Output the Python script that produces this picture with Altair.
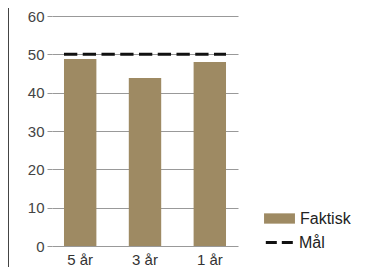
import altair as alt
import pandas as pd

categories = ["5 år", "3 år", "1 år"]
actual = [48.8, 43.8, 48.0]
target = 50
y_ticks = [0, 10, 20, 30, 40, 50, 60]

bars_df = pd.DataFrame({"cat": categories, "value": actual, "serie": ["Faktisk"] * 3})
goal_df = pd.DataFrame({"start": [categories[0]], "end": [categories[-1]], "goal": [target], "serie": ["Mål"]})

FONT = "Liberation Sans"
x_scale = alt.Scale(domain=categories, paddingInner=0.5, paddingOuter=0.185)
y_scale = alt.Scale(domain=[0, 60], nice=False)

x_axis = alt.Axis(labelAngle=0, ticks=False, domain=False, labelFontSize=15,
                  labelColor="#333", labelPadding=6, labelFont=FONT, title=None)
y_axis = alt.Axis(values=y_ticks, domain=False, tickSize=5, tickColor="#999",
                  gridColor="#999", labelFontSize=15, labelColor="#444",
                  labelPadding=3, labelFont=FONT, title=None)

bars = alt.Chart(bars_df).mark_bar().encode(
    x=alt.X("cat:N", scale=x_scale, axis=x_axis),
    y=alt.Y("value:Q", scale=y_scale, axis=y_axis),
    color=alt.Color("serie:N", scale=alt.Scale(domain=["Faktisk"], range=["#9e8a63"]),
                    legend=alt.Legend(title=None, orient="none", legendX=217, legendY=192,
                                      symbolType="M-1.5,-0.5H1.5V0.5H-1.5Z", symbolSize=425,
                                      symbolOpacity=1, labelFontSize=16, labelColor="#222",
                                      labelFont=FONT, symbolStrokeWidth=0, labelOffset=10)),
)

goal = alt.Chart(goal_df).mark_rule(strokeWidth=3, strokeDash=[13.3, 5.45]).encode(
    x=alt.X("start:N", scale=x_scale, bandPosition=0, axis=x_axis),
    x2=alt.X2("end:N", bandPosition=1),
    y=alt.Y("goal:Q", scale=y_scale, axis=y_axis),
    stroke=alt.Stroke("serie:N", scale=alt.Scale(domain=["Mål"], range=["#111"]),
                      legend=alt.Legend(title=None, orient="none", legendX=212, legendY=211,
                                        symbolType="stroke", symbolDash=[11, 5],
                                        symbolStrokeWidth=3, symbolSize=750,
                                        labelFontSize=16, labelColor="#222",
                                        labelFont=FONT, labelOffset=4)),
)

border = alt.Chart(bars_df).mark_rule(color="#444", strokeWidth=1, clip=False).encode(
    x=alt.value(-43.5), y=alt.value(-8), y2=alt.value(251)
)

chart = alt.layer(border, bars, goal).properties(
    width=186, height=230,
    autosize=alt.AutoSizeParams(type="none"),
    padding={"left": 44, "top": 8, "right": 137, "bottom": 21},
).configure_view(stroke=None).configure_legend(symbolLimit=0)

chart.save("out.html", embed_options={"renderer": "svg", "actions": False})
